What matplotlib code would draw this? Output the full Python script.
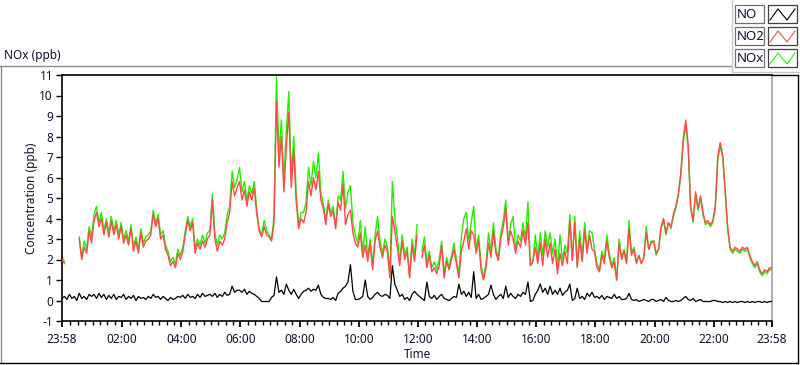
import numpy as np
import matplotlib
matplotlib.use("Agg")
import matplotlib.pyplot as plt
from matplotlib.lines import Line2D
from matplotlib.patches import Rectangle

nan = float("nan")

# ---------------- data (5-minute samples starting at 23:58) ----------------
start_label = "23:58"
step_min = 5

no2 = [
    2.0, 1.8, nan, 2.0, nan, nan, nan, 3.0, 2.0, 2.6, 2.3, 3.4,
    2.8, 3.9, 4.3, 3.6, 4.0, 3.2, 3.8, 3.1, 3.9, 3.2, 3.7, 3.0,
    3.6, 2.8, 3.2, 2.7, 3.5, 2.4, 2.9, 2.3, 3.3, 2.6, 2.9, 3.0,
    3.2, 4.2, 3.6, 4.0, 3.0, 3.2, 2.5, 2.2, 1.7, 1.9, 1.6, 2.3,
    2.0, 2.4, 3.2, 3.9, 3.4, 3.8, 2.3, 2.8, 2.5, 2.9, 2.6, 3.0,
    3.2, 4.9, 3.0, 2.4, 2.9, 2.7, 3.0, 3.8, 4.3, 5.8, 5.1, 5.5,
    5.8, 4.9, 5.4, 4.6, 5.3, 4.9, 5.5, 4.2, 3.4, 3.1, 3.6, 3.2,
    3.1, 2.9, 3.8, 9.7, 6.5, 8.0, 5.3, 7.5, 9.2, 5.5, 7.3, 4.8,
    3.5, 4.0, 3.8, 4.3, 5.8, 5.1, 6.0, 5.4, 6.3, 4.9, 4.5, 3.7,
    4.7, 4.1, 4.4, 3.5, 4.8, 4.4, 5.7, 3.7, 4.2, 4.4, 3.3, 2.8,
    2.6, 3.3, 2.1, 2.7, 1.9, 2.8, 1.5, 2.9, 3.4, 2.6, 2.1, 2.7,
    2.4, 1.1, 4.1, 3.4, 2.6, 1.7, 2.9, 2.0, 2.4, 1.1, 2.7, 1.9,
    3.2, nan, 2.1, 2.7, 1.6, 2.2, 1.4, 1.6, 1.3, 1.7, 2.7, 1.1,
    1.9, 1.5, 2.0, 2.5, 1.8, 1.1, 2.4, 2.9, 3.5, 2.5, 3.4, 3.2,
    2.3, 2.9, 1.5, 1.0, 1.6, 2.8, 2.1, 3.4, 2.3, 1.95, 3.0, 3.6,
    4.5, 2.7, 3.4, 3.0, 2.3, 2.9, 2.6, 3.4, 2.7, 3.8, 1.7, 1.9,
    2.6, 1.8, 2.8, 1.7, 3.0, 2.1, 2.8, 1.8, 2.5, 1.3, 2.3, 1.7,
    2.4, 1.8, 3.9, 1.95, 3.8, 1.6, 3.0, 1.9, 3.4, 2.3, 3.2, 2.5,
    2.4, 1.6, 1.4, 2.2, 1.8, 2.9, 2.1, 1.6, 1.9, 1.0, 2.8, 2.0,
    2.4, 1.8, 3.5, 2.2, 2.5, 1.8, 2.2, 1.8, 2.1, 3.3, 2.5, 2.8,
    2.9, 2.3, 2.5, 3.6, 4.0, 3.3, 3.8, 3.6, 4.2, 4.6, 5.2, 6.2,
    7.9, 8.8, 7.6, 4.6, 3.9, 5.3, 4.5, 5.1, 4.3, 3.8, 3.9, 3.7,
    3.9, 4.6, 7.0, 7.7, 7.1, 5.4, 3.6, 2.6, 2.4, 2.6, 2.5, 2.4,
    2.6, 2.5, 2.6, 2.2, 1.9, 1.7, 1.9, 1.5, 1.3, 1.5, 1.4, 1.6, 1.6,
]

nox = [
    2.1, 1.9, nan, 2.1, nan, nan, nan, 3.1, 2.1, 2.9, 2.5, 3.6,
    3.1, 4.2, 4.6, 3.8, 4.3, 3.4, 4.0, 3.3, 4.1, 3.4, 3.9, 3.2,
    3.8, 3.0, 3.4, 2.9, 3.7, 2.6, 3.1, 2.5, 3.5, 2.8, 3.1, 3.2,
    3.4, 4.4, 3.8, 4.2, 3.2, 3.4, 2.7, 2.4, 1.9, 2.1, 1.8, 2.5,
    2.2, 2.6, 3.4, 4.1, 3.6, 4.0, 2.5, 3.0, 2.7, 3.2, 2.8, 3.3,
    3.4, 5.2, 3.3, 2.7, 3.2, 3.0, 3.3, 4.2, 4.6, 6.3, 5.5, 5.9,
    6.5, 5.3, 5.8, 4.9, 5.6, 5.2, 5.8, 4.4, 3.5, 3.2, 3.9, 3.4,
    3.2, 3.0, 4.1, 10.9, 7.2, 8.8, 5.8, 8.3, 10.2, 6.0, 8.0, 5.3,
    3.6, 4.3, 4.3, 4.8, 6.5, 5.6, 6.8, 6.0, 7.2, 5.3, 4.7, 3.9,
    4.9, 4.3, 4.6, 3.6, 5.1, 4.9, 6.3, 4.5, 5.3, 5.6, 3.8, 3.2,
    2.8, 3.9, 2.3, 3.6, 2.1, 3.0, 1.7, 3.2, 4.1, 2.9, 2.3, 3.0,
    2.6, 1.3, 5.8, 4.0, 3.1, 1.9, 3.2, 2.2, 2.6, 1.2, 3.0, 2.2,
    3.7, nan, 2.4, 3.1, 1.8, 2.4, 1.6, 1.9, 1.5, 2.0, 2.9, 1.3,
    2.1, 1.6, 2.2, 2.8, 2.0, 1.3, 3.1, 4.0, 4.3, 2.9, 3.8, 4.6,
    2.5, 3.2, 1.7, 1.1, 1.8, 3.3, 2.4, 3.8, 2.5, 2.1, 3.3, 3.9,
    4.9, 2.9, 3.7, 4.1, 2.5, 3.2, 2.9, 3.8, 3.0, 4.8, 1.7, 1.9,
    3.2, 2.1, 3.3, 2.2, 3.4, 2.6, 3.3, 2.3, 3.0, 1.6, 3.2, 2.0,
    2.7, 2.3, 4.2, 2.0, 4.1, 1.7, 3.4, 2.1, 3.8, 2.5, 3.4, 3.3,
    2.5, 1.8, 1.5, 2.4, 2.0, 3.2, 2.3, 1.7, 2.1, 1.0, 3.0, 2.1,
    2.5, 1.9, 3.9, 2.3, 2.6, 1.9, 2.2, 1.8, 2.1, 3.6, 2.5, 2.9,
    2.9, 2.2, 2.5, 3.5, 3.9, 3.2, 3.8, 3.5, 4.1, 4.5, 5.1, 6.1,
    7.7, 8.6, 7.4, 4.5, 3.8, 5.2, 4.4, 5.0, 4.2, 3.7, 3.8, 3.6,
    3.8, 4.5, 6.9, 7.5, 7.0, 5.3, 3.5, 2.5, 2.3, 2.5, 2.4, 2.3,
    2.5, 2.4, 2.5, 2.1, 1.8, 1.6, 1.8, 1.4, 1.2, 1.4, 1.3, 1.5, 1.5,
]

no = [
    0.1, 0.2, 0.05, 0.3, 0.1, 0.2, 0.0, 0.35, 0.1, 0.2, 0.05, 0.3,
    0.2, 0.3, 0.1, 0.35, 0.15, 0.3, 0.05, 0.25, 0.1, 0.3, 0.05, 0.2,
    0.15, 0.3, 0.05, 0.2, 0.1, 0.25, 0.0, 0.2, 0.1, 0.15, 0.05, 0.2,
    0.1, 0.3, 0.15, 0.2, 0.05, 0.2, 0.1, 0.0, 0.15, 0.05, 0.1, 0.2,
    0.15, 0.25, 0.1, 0.3, 0.15, 0.2, 0.1, 0.3, 0.15, 0.35, 0.2, 0.25,
    0.3, 0.2, 0.35, 0.15, 0.3, 0.2, 0.4, 0.25, 0.3, 0.7, 0.4, 0.5,
    0.5, 0.4, 0.55, 0.3, 0.45, 0.35, 0.3, 0.2, 0.1, -0.05, -0.05, -0.05,
    -0.05, 0.15, 0.25, 1.15, 0.4, 0.5, 0.3, 0.8, 0.5, 0.3, 0.55, 0.3,
    0.1, 0.3, 0.45, 0.5, 0.6, 0.45, 0.55, 0.5, 0.75, 0.3, 0.15, 0.1,
    0.1, 0.05, 0.15, 0.0, 0.35, 0.45, 0.6, 0.7, 0.9, 1.75, 0.45, 0.05,
    0.05, 0.1, 0.2, 1.0, 0.2, 0.05, 0.15, 0.3, 0.4, 0.25, 0.2, 0.3,
    0.25, 0.1, 1.7, 0.8, 0.5, 0.2, 0.3, 0.05, 0.15, 0.0, 0.3, 0.45,
    0.3, 0.2, 0.1, 0.0, 0.9, 0.2, 0.1, 0.25, 0.05, 0.2, 0.3, 0.1,
    0.05, 0.0, 0.1, 0.2, 0.15, 0.8, 0.3, 0.45, 0.2, 0.4, 0.15, 1.4,
    0.1, 0.3, 0.05, 0.1, 0.2, 0.3, 0.75, 0.3, 0.05, 0.2, 0.3, 0.1,
    0.7, 0.15, 0.35, 0.2, 0.1, 0.3, 0.2, 0.4, 0.3, 0.9, -0.05, 0.0,
    0.3, 0.5, 0.8, 0.4, 0.6, 0.3, 0.7, 0.3, 0.5, 0.3, 0.6, 0.25,
    0.4, 0.5, 0.8, 0.0, 0.1, 0.6, 0.1, 0.2, 0.05, 0.35, 0.2, 0.4,
    0.15, 0.2, 0.1, 0.25, 0.05, 0.2, 0.15, 0.1, 0.3, 0.1, 0.2, 0.05,
    0.05, 0.1, 0.35, 0.05, 0.0, 0.05, -0.05, 0.0, 0.05, 0.0, -0.05, 0.05,
    0.05, -0.05, 0.0, 0.05, -0.05, 0.15, 0.0, -0.05, -0.05, 0.0, -0.05, 0.0,
    0.1, 0.2, 0.05, 0.0, 0.1, -0.05, 0.0, 0.05, -0.05, -0.05, -0.05, -0.05,
    0.0, 0.0, -0.05, -0.05, -0.1, -0.05, -0.1, -0.05, -0.1, -0.05, -0.1, -0.05,
    -0.05, -0.1, -0.05, -0.1, -0.05, -0.1, -0.05, -0.05, -0.1, -0.05, -0.1, -0.05, -0.05,
]

series_names = ["NO", "NO2", "NOx"]
series_colors = ["#000000", "#ff4848", "#22f000"]

x_tick_labels = ["23:58", "02:00", "04:00", "06:00", "08:00", "10:00", "12:00",
                 "14:00", "16:00", "18:00", "20:00", "22:00", "23:58"]
y_ticks = list(range(-1, 12))

title_text = "NOx (ppb)"
y_label = "Concentration (ppb)"
x_label = "Time"

# ---------------- helpers ----------------
W, H = 800, 365
def fx(x):
    return x / W
def fy(y):
    return 1 - y / H

def to_min(lbl):
    h, m = lbl.split(":")
    return int(h) * 60 + int(m)

t0 = to_min(start_label)
def offset(lbl, last=False):
    d = (to_min(lbl) - t0) % 1440
    if last and d == 0:
        d = 1440
    return d

t = np.arange(len(no2)) * step_min

FONT = ["Noto Sans", "DejaVu Sans"]
plt.rcParams["font.family"] = FONT
TXT = "#10102a"

fig = plt.figure(figsize=(W / 100, H / 100), dpi=100)
fig.patch.set_facecolor("white")

L, R, T, B = 62, 772, 75, 321
ax = fig.add_axes([fx(L), fy(B), fx(R - L), (B - T) / H])
ax.set_facecolor("white")

ax.plot(t, nox, color=series_colors[2], lw=1.0, zorder=2)
ax.plot(t, no2, color=series_colors[1], lw=1.0, zorder=3)
ax.plot(t, no, color=series_colors[0], lw=0.9, zorder=4)

ax.set_xlim(0, 1440)
ax.set_ylim(-1, 11)

major = [offset(l, last=(i == len(x_tick_labels) - 1)) for i, l in enumerate(x_tick_labels)]
ax.set_xticks(major)
ax.set_xticklabels(x_tick_labels)
minor = [m for m in range(2, 1440, 15) if all(abs(m - j) > 3 for j in major)]
ax.set_xticks(minor, minor=True)
ax.set_yticks(y_ticks)
ax.set_yticklabels([str(v) for v in y_ticks])

ax.tick_params(axis="both", which="major", direction="out", length=4.5, width=1.0,
               color="black", labelsize=8.5, labelcolor=TXT, pad=2)
ax.tick_params(axis="x", which="major", pad=4, width=1.3)
ax.tick_params(axis="x", which="minor", direction="out", length=3, width=1.0, color="black")

for s in ["left", "bottom", "top"]:
    ax.spines[s].set_color("black")
    ax.spines[s].set_linewidth(1.2)
ax.spines["right"].set_color("#a0a0a0")
ax.spines["right"].set_linewidth(1.2)

fig.text(fx(31), fy(198), y_label, rotation=90, ha="center", va="center",
         fontsize=8.5, color=TXT)
fig.text(fx(417), fy(354), x_label, ha="center", va="center", fontsize=8.5, color=TXT)
fig.text(fx(4), fy(55), title_text, ha="left", va="center", fontsize=8.5, color=TXT)

# outer frame
def hline(y, x0, x1, c, lw=1.0):
    fig.add_artist(Line2D([fx(x0), fx(x1)], [fy(y), fy(y)], color=c, lw=lw))
def vline(x, y0, y1, c, lw=1.0):
    fig.add_artist(Line2D([fx(x), fx(x)], [fy(y0), fy(y1)], color=c, lw=lw))

hline(65.5, 0, 731, "#8c8c8c")
vline(0.7, 65.5, 363, "#8c8c8c")
hline(362.5, 0, 798, "black")
vline(797.5, 75, 363, "black")
hline(75, 772, 798, "black")

# legend panel
vline(731.5, 0, 72, "#c8c8c8")
hline(72, 731.5, 800, "#c8c8c8")
rows = [5, 27, 49]
for name, col, ytop in zip(series_names, series_colors, rows):
    fig.add_artist(Rectangle((fx(735), fy(ytop + 18)), fx(29), 18 / H,
                             facecolor="white", edgecolor="#707070", lw=0.9))
    fig.text(fx(736.5), fy(ytop + 9.5), name, ha="left", va="center",
             fontsize=9.5, color=TXT)
    fig.add_artist(Rectangle((fx(768), fy(ytop + 18)), fx(29), 18 / H,
                             facecolor="white", edgecolor="#404040", lw=0.9))
    zx = [770, 778, 787, 795]
    zy = [ytop + 15, ytop + 4, ytop + 15, ytop + 4]
    fig.add_artist(Line2D([fx(v) for v in zx], [fy(v) for v in zy], color=col, lw=0.8))

fig.savefig("out.png", dpi=100, facecolor="white")
